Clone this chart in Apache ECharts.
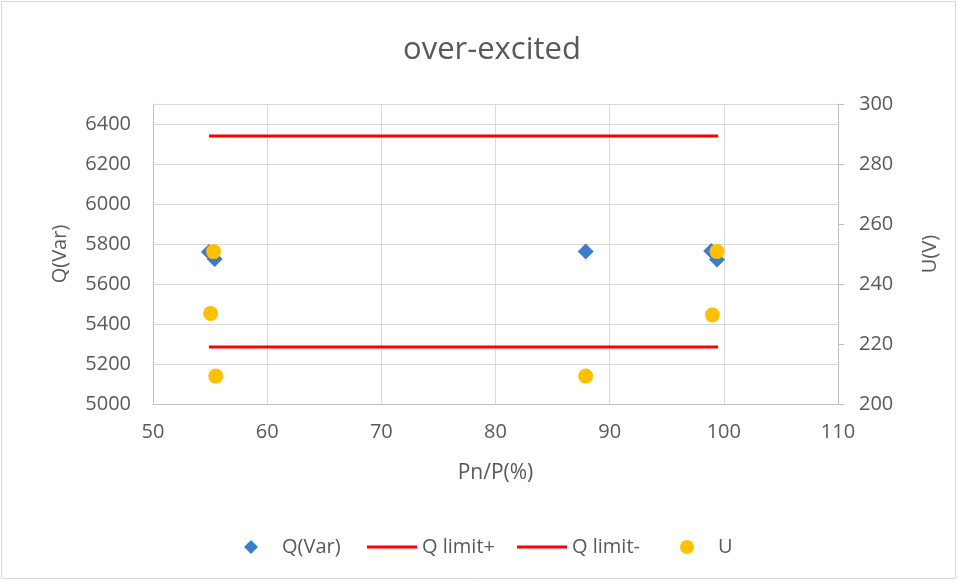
<!DOCTYPE html>
<html>
<head>
<meta charset="utf-8">
<script src="https://cdn.jsdelivr.net/npm/echarts@6/dist/echarts.min.js"></script>
<style>
  html, body { margin: 0; padding: 0; background: #fff; }
  #chart { width: 958px; height: 581px; }
</style>
</head>
<body>
<div id="chart"></div>
<script>
// Measured points: load ratio Pn/P (%) vs reactive power Q (Var) and voltage U (V)
const qPoints = [[54.9, 5760], [55.4, 5725], [87.9, 5762], [98.9, 5765], [99.4, 5722]];
const uPoints = [[55.3, 250.8], [55.05, 230.2], [55.5, 209.3], [87.9, 209.3], [99.0, 229.7], [99.4, 250.8]];
// Reactive power limits across the tested range
const qLimitPlus = [[54.9, 6340], [99.5, 6340]];
const qLimitMinus = [[54.9, 5285], [99.5, 5285]];
const seriesNames = ['Q(Var)', 'Q limit+', 'Q limit-', 'U'];

const FONT = 'Open Sans';
const TXT = '#595959';
const GRID = '#d9d9d9';
const AXIS = '#bfbfbf';
const BLUE = '#3a7dc9';
const RED = '#ff0000';
const YELLOW = '#ffc000';

const plain = v => String(v);

const chart = echarts.init(document.getElementById('chart'));

const legendText = { color: TXT, fontFamily: FONT, fontSize: 20 };
chart.setOption({
  animation: false,
  title: {
    text: 'over-excited', left: 398, top: 30,
    textStyle: { color: TXT, fontFamily: FONT, fontSize: 31, fontWeight: 'normal' }
  },
  graphic: [{
    type: 'rect', shape: { x: 1.5, y: 1.5, width: 954, height: 577 },
    style: { fill: 'none', stroke: '#d9d9d9', lineWidth: 1 }, silent: true
  }],
  grid: { left: 153, right: 120, top: 104, bottom: 177, containLabel: false },
  legend: [
    { data: [{ name: seriesNames[0], icon: 'diamond' }], left: 239, top: 532, itemWidth: 14, itemHeight: 14,
      textStyle: Object.assign({ padding: [0, 0, 0, 19] }, legendText) },
    { data: [{ name: seriesNames[1], icon: 'rect' }], left: 362, top: 532, itemWidth: 50, itemHeight: 3, textStyle: legendText },
    { data: [{ name: seriesNames[2], icon: 'rect' }], left: 512, top: 532, itemWidth: 50, itemHeight: 3, textStyle: legendText },
    { data: [{ name: seriesNames[3], icon: 'circle' }], left: 675, top: 532, itemWidth: 14, itemHeight: 14,
      textStyle: Object.assign({ padding: [0, 0, 0, 19] }, legendText) }
  ],
  xAxis: {
    type: 'value', min: 50, max: 110, interval: 10,
    name: 'Pn/P(%)', nameLocation: 'middle', nameGap: 59,
    nameTextStyle: { color: TXT, fontFamily: FONT, fontSize: 21 },
    axisLine: { show: true, lineStyle: { color: AXIS } },
    axisTick: { show: false },
    axisLabel: { color: TXT, fontFamily: FONT, fontSize: 20, margin: 18, formatter: plain },
    splitLine: { show: true, lineStyle: { color: GRID } }
  },
  yAxis: [
    {
      type: 'value', min: 5000, max: 6500, interval: 200, position: 'left',
      name: 'Q(Var)', nameLocation: 'middle', nameGap: 83,
      nameTextStyle: { color: TXT, fontFamily: FONT, fontSize: 20 },
      axisLine: { show: true, lineStyle: { color: AXIS } },
      axisTick: { show: false },
      axisLabel: { color: TXT, fontFamily: FONT, fontSize: 20, margin: 22, showMaxLabel: false, formatter: plain },
      splitLine: { show: true, lineStyle: { color: GRID } }
    },
    {
      type: 'value', min: 200, max: 300, interval: 20, position: 'right',
      name: 'U(V)', nameLocation: 'middle', nameGap: 82,
      nameTextStyle: { color: TXT, fontFamily: FONT, fontSize: 20 },
      axisLine: { show: true, lineStyle: { color: AXIS } },
      axisTick: { show: true, inside: false, length: 6, lineStyle: { color: AXIS } },
      axisLabel: { color: TXT, fontFamily: FONT, fontSize: 20, margin: 21, formatter: plain },
      splitLine: { show: false }
    }
  ],
  series: [
    {
      name: seriesNames[1], type: 'line', data: qLimitPlus, yAxisIndex: 0,
      symbol: 'none', lineStyle: { color: RED, width: 3 }, itemStyle: { color: RED }, z: 2
    },
    {
      name: seriesNames[2], type: 'line', data: qLimitMinus, yAxisIndex: 0,
      symbol: 'none', lineStyle: { color: RED, width: 3 }, itemStyle: { color: RED }, z: 2
    },
    {
      name: seriesNames[0], type: 'scatter', data: qPoints, yAxisIndex: 0,
      symbol: 'diamond', symbolSize: 16, itemStyle: { color: BLUE, opacity: 1 }, z: 3
    },
    {
      name: seriesNames[3], type: 'scatter', data: uPoints, yAxisIndex: 1,
      symbol: 'circle', symbolSize: 15, itemStyle: { color: YELLOW, opacity: 1 }, z: 4
    }
  ]
});
</script>
</body>
</html>
